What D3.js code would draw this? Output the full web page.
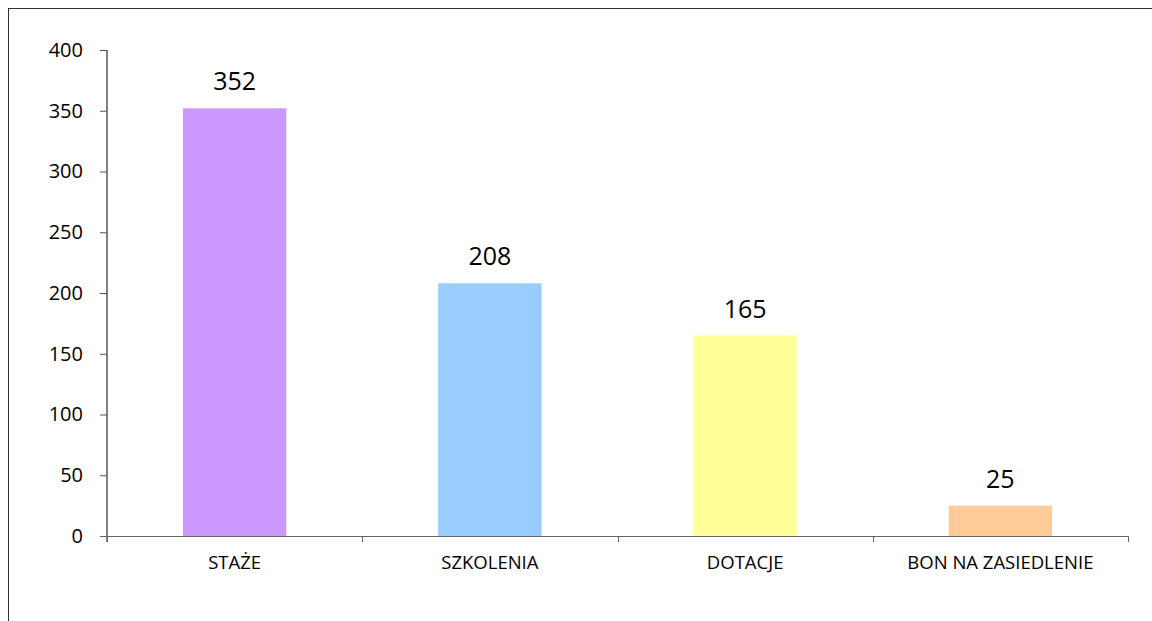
<!DOCTYPE html>
<html>
<head>
<meta charset="utf-8">
<script src="https://cdn.jsdelivr.net/npm/d3@7"></script>
<style>
  body { margin: 0; background: #fff; }
  svg { display: block; font-family: "Open Sans", "Noto Sans", sans-serif; }
</style>
</head>
<body>
<svg width="1152" height="621"></svg>
<script>
var categories = ["STAŻE", "SZKOLENIA", "DOTACJE", "BON NA ZASIEDLENIE"];
var values = [352, 208, 165, 25];
var colors = ["#cc99ff", "#99ccff", "#ffff99", "#ffcc99"];
var yTicks = [0, 50, 100, 150, 200, 250, 300, 350, 400];

var svg = d3.select("svg");

// outer frame (only top and left edges visible)
svg.append("rect")
  .attr("x", 8.5).attr("y", 8.5)
  .attr("width", 1200).attr("height", 700)
  .attr("fill", "none").attr("stroke", "#333").attr("stroke-width", 1);

var plotLeft = 107, plotRight = 1128, plotTop = 50, plotBottom = 536;

var x = d3.scaleBand().domain(categories).range([plotLeft, plotRight]).paddingInner(0).paddingOuter(0);
var y = d3.scaleLinear().domain([0, 400]).range([plotBottom, plotTop]);

var barW = x.bandwidth() * 0.405;

svg.selectAll("rect.bar")
  .data(values)
  .enter().append("rect")
    .attr("class", "bar")
    .attr("x", function(d, i) { return x(categories[i]) + (x.bandwidth() - barW) / 2; })
    .attr("y", function(d) { return y(d); })
    .attr("width", barW)
    .attr("height", function(d) { return plotBottom - y(d); })
    .attr("fill", function(d, i) { return colors[i]; });

// value labels
svg.selectAll("text.val")
  .data(values)
  .enter().append("text")
    .attr("class", "val")
    .attr("x", function(d, i) { return x(categories[i]) + x.bandwidth() / 2; })
    .attr("y", function(d) { return y(d) - 18; })
    .attr("text-anchor", "middle")
    .attr("font-size", 25)
    .attr("fill", "#000")
    .text(function(d) { return d; });

// y axis
var yAxis = svg.append("g").attr("transform", "translate(" + plotLeft + ",0)")
  .call(d3.axisLeft(y).tickValues(yTicks).tickSize(7).tickPadding(17));
yAxis.select(".domain").attr("stroke", "#000").attr("d", "M0," + plotTop + "V" + (plotBottom + 6));
yAxis.selectAll(".tick line").attr("stroke", "#555");
yAxis.selectAll(".tick text").attr("font-size", 20).attr("fill", "#000")
  .attr("font-family", "\"Open Sans\", \"Noto Sans\", sans-serif");

// x axis
var xg = svg.append("g").attr("transform", "translate(0," + plotBottom + ")");
xg.append("line").attr("x1", plotLeft - 7).attr("x2", plotRight).attr("y1", 0.5).attr("y2", 0.5)
  .attr("stroke", "#666");
var bounds = categories.map(function(c) { return x(c); }).concat([plotRight]);
xg.selectAll("line.tk").data(bounds).enter().append("line")
  .attr("class", "tk")
  .attr("x1", function(d) { return Math.round(d) + 0.5; })
  .attr("x2", function(d) { return Math.round(d) + 0.5; })
  .attr("y1", 0).attr("y2", 6)
  .attr("stroke", "#666");
xg.selectAll("text.cat").data(categories).enter().append("text")
  .attr("class", "cat")
  .attr("x", function(d) { return x(d) + x.bandwidth() / 2; })
  .attr("y", 33)
  .attr("text-anchor", "middle")
  .attr("font-size", 18.5)
  .attr("fill", "#000")
  .text(function(d) { return d; });
</script>
</body>
</html>
